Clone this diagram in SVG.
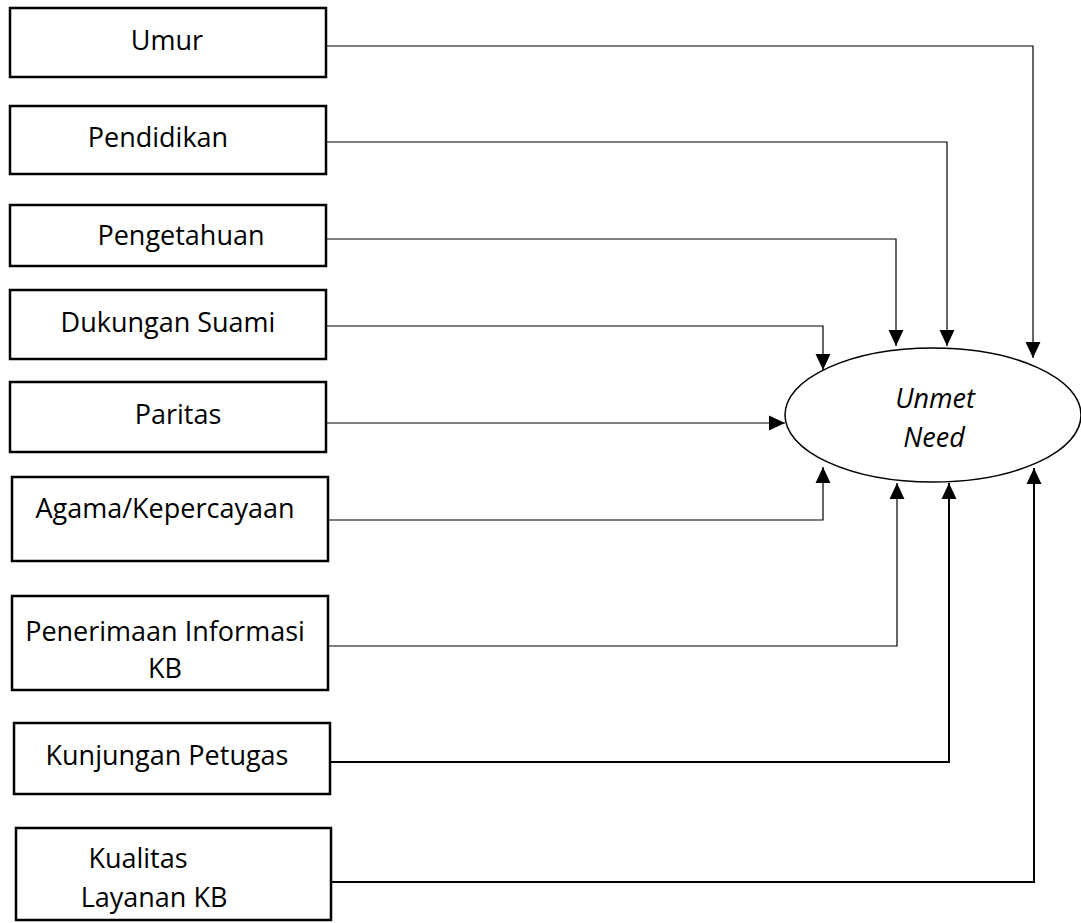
<svg xmlns="http://www.w3.org/2000/svg" width="1081" height="923" viewBox="0 0 1081 923">
<style>
.box{fill:#fff;stroke:#000;stroke-width:2.5}
.t{font-family:"Open Sans","Noto Sans","Liberation Sans",sans-serif;font-size:27px;fill:#000;text-anchor:middle}
.it{font-style:italic}
.c{fill:none;stroke:#000;stroke-width:1.2}
.c2{fill:none;stroke:#000;stroke-width:2}
</style>
<defs>
<marker id="ah" markerUnits="userSpaceOnUse" markerWidth="16" markerHeight="16" viewBox="0 0 15 14" refX="15" refY="7" orient="auto">
<path d="M0,0 L15,7 L0,14 z" fill="#000"/>
</marker>
</defs>
<g id="connectors">
<path class="c" d="M326,46 H1033 V358" marker-end="url(#ah)"/>
<path class="c" d="M326,142 H947 V346" marker-end="url(#ah)"/>
<path class="c" d="M326,239 H896 V346" marker-end="url(#ah)"/>
<path class="c" d="M326,326 H823 V370" marker-end="url(#ah)"/>
<path class="c" d="M326,423 H785" marker-end="url(#ah)"/>
<path class="c" d="M326,520 H823 V467" marker-end="url(#ah)"/>
<path class="c" d="M328,646 H897 V483" marker-end="url(#ah)"/>
<path class="c2" d="M330,762 H949 V483" marker-end="url(#ah)"/>
<path class="c2" d="M331,882 H1034 V468" marker-end="url(#ah)"/>
</g>
<g id="umur"><rect class="box" x="10" y="8" width="316" height="69"/><text class="t" x="167" y="50">Umur</text></g>
<g id="pendidikan"><rect class="box" x="10" y="106" width="316" height="68"/><text class="t" x="158" y="147">Pendidikan</text></g>
<g id="pengetahuan"><rect class="box" x="10" y="205" width="316" height="61"/><text class="t" x="181" y="245">Pengetahuan</text></g>
<g id="dukungan"><rect class="box" x="10" y="290" width="316" height="69"/><text class="t" x="168" y="332">Dukungan Suami</text></g>
<g id="paritas"><rect class="box" x="10" y="382" width="316" height="70"/><text class="t" x="178" y="424">Paritas</text></g>
<g id="agama"><rect class="box" x="12" y="477" width="316" height="84"/><text class="t" x="165" y="518">Agama/Kepercayaan</text></g>
<g id="penerimaan"><rect class="box" x="12" y="596" width="316" height="94"/><text class="t" x="165" y="641">Penerimaan Informasi</text><text class="t" x="165" y="678">KB</text></g>
<g id="kunjungan"><rect class="box" x="14" y="723" width="316" height="71"/><text class="t" x="167" y="765">Kunjungan Petugas</text></g>
<g id="kualitas"><rect class="box" x="16" y="828" width="315" height="92"/><text class="t" x="138" y="868">Kualitas</text><text class="t" x="154" y="907">Layanan KB</text></g>
<g id="unmet"><ellipse cx="933" cy="415" rx="148" ry="67" fill="#fff" stroke="#000" stroke-width="1.5"/><text class="t it" x="935" y="408">Unmet</text><text class="t it" x="934" y="447">Need</text></g>
</svg>
